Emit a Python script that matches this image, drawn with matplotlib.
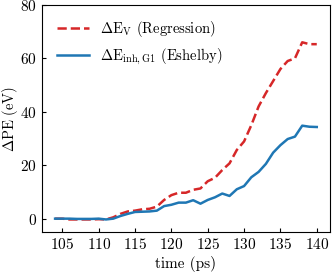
import numpy as np
import matplotlib
matplotlib.use('Agg')
import matplotlib.pyplot as plt

plt.rcParams['font.family'] = 'serif'
plt.rcParams['font.serif'] = ['cmr10', 'DejaVu Serif']
plt.rcParams['mathtext.fontset'] = 'cm'
plt.rcParams['axes.formatter.use_mathtext'] = True

# time steps (ps)
time = np.arange(104, 141)

# energy change from regression (eV)
dE_regression = [0.0, 0.0, -0.3, -0.3, -0.3, -0.3, -0.2, -0.3, 0.5, 1.8,
                 2.7, 3.0, 3.5, 3.7, 4.5, 7.0, 8.8, 9.7, 9.7, 10.8,
                 11.3, 14.0, 15.3, 18.2, 20.7, 25.7, 28.9, 35.0, 42.0, 47.0,
                 51.5, 56.0, 59.0, 60.0, 66.0, 65.3, 65.3]

# inhomogeneity energy from Eshelby (eV)
dE_eshelby = [0.0, 0.0, 0.0, -0.1, -0.1, -0.1, 0.0, -0.3, 0.0, 1.0,
              1.8, 2.5, 2.6, 2.7, 3.0, 4.7, 5.2, 6.0, 6.0, 6.9,
              5.6, 7.0, 8.0, 9.4, 8.5, 11.0, 12.2, 15.5, 17.5, 20.5,
              24.7, 27.5, 29.8, 30.7, 34.8, 34.4, 34.3]

fig = plt.figure(figsize=(3.32, 2.72), dpi=100)
ax = fig.add_axes([0.1265, 0.147, 0.867, 0.835])

ax.plot(time, dE_regression, '--', color='#d62728', linewidth=1.8,
        label=r'$\Delta\mathrm{E}_\mathrm{V}$ (Regression)')
ax.plot(time, dE_eshelby, '-', color='#1f77b4', linewidth=1.8,
        label=r'$\Delta\mathrm{E}_\mathrm{inh,G1}$ (Eshelby)')

ax.set_ylim(-5, 80)
ax.set_xticks([105, 110, 115, 120, 125, 130, 135, 140])
ax.set_yticks([0, 20, 40, 60, 80])
ax.tick_params(direction='in', length=3, labelsize=11)
ax.set_xlabel('time (ps)', fontsize=11, labelpad=3)
ax.set_ylabel(r'$\Delta$PE (eV)', fontsize=10.5)
ax.yaxis.set_label_coords(-0.078, 0.5)
ax.legend(loc='upper left', frameon=False, fontsize=10.5, handlelength=2.2,
          borderaxespad=0.6)

plt.savefig('out.png', dpi=100)
